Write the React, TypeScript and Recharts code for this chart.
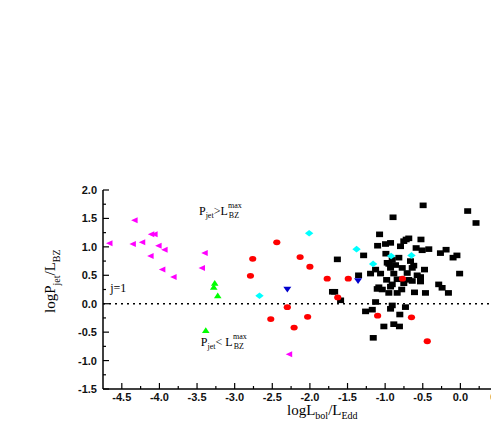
import React from 'react';
import {
  ScatterChart,
  Scatter,
  XAxis,
  YAxis,
  ReferenceLine,
  ReferenceDot,
} from 'recharts';

// ---------- data ----------
const blackSquares = [
  { x: -0.495, y: 1.73 }, { x: 0.097, y: 1.63 }, { x: 0.208, y: 1.42 }, { x: -0.895, y: 1.52 },
  { x: -1.074, y: 1.22 }, { x: -0.995, y: 1.05 }, { x: -0.928, y: 1.07 }, { x: -0.752, y: 1.1 },
  { x: -0.686, y: 1.15 }, { x: -0.796, y: 1.01 }, { x: -0.524, y: 1.13 }, { x: -1.1, y: 1.02 },
  { x: -0.588, y: 0.98 }, { x: -0.508, y: 0.94 }, { x: -0.42, y: 0.96 }, { x: -0.265, y: 0.89 },
  { x: -0.19, y: 0.95 }, { x: -0.097, y: 0.81 }, { x: -0.046, y: 0.85 }, { x: -1.286, y: 0.85 },
  { x: -0.99, y: 0.88 }, { x: -0.818, y: 0.81 }, { x: -0.972, y: 0.72 }, { x: -0.663, y: 0.75 },
  { x: -0.928, y: 0.63 }, { x: -0.773, y: 0.63 }, { x: -0.64, y: 0.63 }, { x: -0.477, y: 0.6 },
  { x: -1.127, y: 0.6 }, { x: -1.194, y: 0.53 }, { x: -1.061, y: 0.53 }, { x: -0.885, y: 0.53 },
  { x: -0.707, y: 0.54 }, { x: -0.574, y: 0.5 }, { x: -0.53, y: 0.47 }, { x: -0.01, y: 0.53 },
  { x: -0.84, y: 0.43 }, { x: -0.64, y: 0.4 }, { x: -0.53, y: 0.39 }, { x: -0.906, y: 0.34 },
  { x: -0.288, y: 0.34 }, { x: -0.243, y: 0.28 }, { x: -1.084, y: 0.29 }, { x: -1.038, y: 0.25 },
  { x: -1.635, y: 0.78 }, { x: -1.353, y: 0.5 }, { x: -1.671, y: 0.21 }, { x: -1.7, y: 0.21 },
  { x: -1.592, y: 0.06 }, { x: -0.159, y: 0.19 }, { x: -0.61, y: 0.2 }, { x: -0.464, y: 0.19 },
  { x: -0.951, y: 0.19 }, { x: -0.84, y: 0.19 }, { x: -0.752, y: 0.36 }, { x: -0.686, y: 0.42 },
  { x: -0.95, y: 0.7 }, { x: -0.906, y: 0.77 }, { x: -0.62, y: 0.67 }, { x: -0.72, y: 1.13 },
  { x: -1.105, y: 0.26 }, { x: -0.928, y: 0.3 }, { x: -1.127, y: 0.03 }, { x: -1.26, y: -0.135 },
  { x: -1.171, y: -0.105 }, { x: -0.906, y: -0.03 }, { x: -0.928, y: -0.09 }, { x: -0.73, y: -0.06 },
  { x: -0.805, y: -0.19 }, { x: -1.017, y: -0.4 }, { x: -0.885, y: -0.36 }, { x: -0.81, y: -0.4 },
  { x: -1.158, y: -0.6 }, { x: -0.862, y: 0.68 }, { x: -0.98, y: 0.42 }, { x: -0.78, y: 0.25 },
];

const redCircles = [
  { x: -2.44, y: 1.08 }, { x: -2.76, y: 0.79 }, { x: -2.13, y: 0.82 }, { x: -2.0, y: 0.65 },
  { x: -2.79, y: 0.49 }, { x: -1.77, y: 0.44 }, { x: -1.49, y: 0.44 }, { x: -1.63, y: 0.11 },
  { x: -2.3, y: -0.06 }, { x: -2.52, y: -0.27 }, { x: -2.03, y: -0.23 }, { x: -2.21, y: -0.42 },
  { x: -1.1, y: -0.21 }, { x: -0.65, y: -0.24 }, { x: -0.44, y: -0.66 }, { x: -0.77, y: 0.44 },
];

const magentaTriangles = [
  { x: -4.664, y: 1.065 }, { x: -4.353, y: 1.05 }, { x: -4.228, y: 1.08 }, { x: -4.33, y: 1.47 },
  { x: -4.108, y: 1.22 }, { x: -4.064, y: 1.22 }, { x: -4.011, y: 1.02 }, { x: -3.931, y: 0.95 },
  { x: -4.117, y: 0.84 }, { x: -3.961, y: 0.6 }, { x: -3.811, y: 0.47 }, { x: -3.398, y: 0.89 },
  { x: -3.434, y: 0.63 }, { x: -2.275, y: -0.89 },
];

const greenTriangles = [
  { x: -3.265, y: 0.36 }, { x: -3.278, y: 0.29 }, { x: -3.225, y: 0.14 }, { x: -3.384, y: -0.47 },
];

const cyanDiamonds = [
  { x: -2.01, y: 1.24 }, { x: -1.38, y: 0.96 }, { x: -2.67, y: 0.14 },
  { x: -1.16, y: 0.7 }, { x: -0.92, y: 0.84 }, { x: -0.65, y: 0.85 },
];

const blueTriangles = [
  { x: -2.3, y: 0.25 }, { x: -1.36, y: 0.4 },
];

const xTicks = [
  -4.5, -4.25, -4.0, -3.75, -3.5, -3.25, -3.0, -2.75, -2.5, -2.25, -2.0, -1.75, -1.5, -1.25,
  -1.0, -0.75, -0.5, -0.25, 0.0, 0.25, 0.5,
];
const yTicks = [
  -1.5, -1.25, -1.0, -0.75, -0.5, -0.25, 0.0, 0.25, 0.5, 0.75, 1.0, 1.25, 1.5, 1.75, 2.0,
];
const topTicks = [
  1.04, 2.04, 3.04, 4.04, 5.04, 6.04, 7.04, 8.04, 9.04, 10.04, 11.04, 12.04, 13.04, 14.04,
  15.04, 16.04, 17.04, 18.04, 19.04, 20.04, 21.04, 22.04,
];
const rightTicks = [1, 2, 3, 4, 5, 6, 7];

// ---------- styles ----------
const SERIF = '"Liberation Serif", "Times New Roman", serif';
const SANS = '"Liberation Sans", Arial, sans-serif';
const AXIS = { stroke: '#000', strokeWidth: 1.5 };

const isMajor = (v: number) => Math.abs(v * 2 - Math.round(v * 2)) < 1e-6;

const BottomTick = (props: any) => {
  const { x, y, payload } = props;
  const v = payload.value;
  const major = isMajor(v);
  return (
    <g>
      <line x1={x} x2={x} y1={y} y2={y - (major ? 6 : 3)} stroke="#000" strokeWidth={1.2} />
      {major && (
        <text x={x} y={y + 11.5} textAnchor="middle" fontFamily={SANS} fontWeight="bold" fontSize={11} fill="#111">
          {v.toFixed(1)}
        </text>
      )}
    </g>
  );
};

const LeftTick = (props: any) => {
  const { x, y, payload } = props;
  const v = payload.value;
  const major = isMajor(v);
  return (
    <g>
      <line x1={x} x2={x + (major ? 6 : 3)} y1={y} y2={y} stroke="#000" strokeWidth={1.2} />
      {major && (
        <text x={x - 6} y={y + 4} textAnchor="end" fontFamily={SANS} fontWeight="bold" fontSize={11} fill="#111">
          {v.toFixed(1)}
        </text>
      )}
    </g>
  );
};

const TopTick = (props: any) => {
  const { x, y } = props;
  return <line x1={x} x2={x} y1={y} y2={y + 4} stroke="#000" strokeWidth={1.2} />;
};

const RightTick = (props: any) => {
  const { x, y } = props;
  return <line x1={x} x2={x - 8} y1={y} y2={y} stroke="#000" strokeWidth={1.2} />;
};

// ---------- marker shapes ----------
const Square = (p: any) => <rect x={p.cx - 3.5} y={p.cy - 2.8} width={7} height={5.6} fill="#000" />;
const Circle = (p: any) => <ellipse cx={p.cx} cy={p.cy} rx={3.6} ry={2.9} fill="#ff0000" />;
const LeftTri = (p: any) => (
  <polygon points={`${p.cx - 3.5},${p.cy} ${p.cx + 3},${p.cy - 3} ${p.cx + 3},${p.cy + 3}`} fill="#ff00ff" />
);
const UpTri = (p: any) => (
  <polygon points={`${p.cx},${p.cy - 3.2} ${p.cx - 3.8},${p.cy + 2.6} ${p.cx + 3.8},${p.cy + 2.6}`} fill="#00ff00" />
);
const DownTri = (p: any) => (
  <polygon points={`${p.cx},${p.cy + 3} ${p.cx - 4},${p.cy - 2.8} ${p.cx + 4},${p.cy - 2.8}`} fill="#0000cc" />
);
const Diamond = (p: any) => (
  <polygon points={`${p.cx},${p.cy - 3.3} ${p.cx + 4.2},${p.cy} ${p.cx},${p.cy + 3.3} ${p.cx - 4.2},${p.cy}`} fill="#00ffff" />
);

// ---------- labels ----------
const XTitle = (props: any) => {
  const vb = props.viewBox || { x: 103, y: 389 };
  const x = vb.x + 184;
  const y = vb.y + 26;
  return (
    <text x={x} y={y} fontFamily={SERIF} fontSize={15} fill="#000">
      logL
      <tspan fontSize={10} dy={4} fill="#000">bol</tspan>
      <tspan dy={-4} fill="#000">/L</tspan>
      <tspan fontSize={10} dy={4} fill="#000">Edd</tspan>
    </text>
  );
};

const YTitle = (props: any) => {
  const vb = props.viewBox || { x: 0, y: 190 };
  const x = vb.x + 55;
  const y = vb.y + 123;
  return (
    <text x={x} y={y} transform={`rotate(-90, ${x}, ${y})`} fontFamily={SERIF} fontSize={15} fill="#000">
      logP
      <tspan fontSize={10} dy={5} fill="#000">jet</tspan>
      <tspan dy={-5} fill="#000">/L</tspan>
      <tspan fontSize={10} dy={5} fill="#000">BZ</tspan>
    </text>
  );
};

const CondLabel = (props: any) => {
  const vb = props.viewBox || { x: 0, y: 0 };
  const sign: string = props.sign;
  const x = vb.x;
  const y = vb.y;
  const pW = 6.7;
  const jetW = 8;
  const opW = sign === '>' ? 6.8 : 9.8;
  const lx = x + pW + jetW + opW;
  return (
    <g>
      <text x={x} y={y} fontSize={12} fontFamily={SERIF} fill="#000">P</text>
      <text x={x + pW} y={y + 3} fontSize={8} fontFamily={SERIF} fill="#000">jet</text>
      <text x={x + pW + jetW} y={y} fontSize={12} fontFamily={SERIF} fill="#000">{sign === '>' ? '>' : '< '}</text>
      <text x={lx} y={y} fontSize={12} fontFamily={SERIF} fill="#000">L</text>
      <text x={lx + 7.6} y={y - 7} fontSize={8} fontFamily={SERIF} fill="#000">max</text>
      <text x={lx + 8.4} y={y + 3} fontSize={8} fontFamily={SERIF} fill="#000">BZ</text>
    </g>
  );
};

const JLabel = (props: any) => {
  const vb = props.viewBox || { x: 0, y: 0 };
  return (
    <text x={vb.x} y={vb.y} fontFamily={SERIF} fontSize={12} fill="#000">j=1</text>
  );
};

export default function App() {
  return (
    <div style={{ position: 'absolute', left: 0, top: 0, width: 491, height: 436, overflow: 'hidden', background: '#fff' }}>
      <ScatterChart width={510} height={436} margin={{ top: 190, right: 12, bottom: 17, left: 0 }}>
        <XAxis
          xAxisId="b"
          dataKey="x"
          type="number"
          domain={[-4.75, 0.5]}
          ticks={xTicks}
          interval={0}
          tick={<BottomTick />}
          tickLine={false}
          tickSize={0}
          tickMargin={0}
          axisLine={AXIS}
          height={30}
          allowDataOverflow
          label={<XTitle />}
        />
        <XAxis
          xAxisId="t"
          orientation="top"
          type="number"
          domain={[0, 23.28]}
          ticks={topTicks}
          interval={0}
          tick={<TopTick />}
          tickLine={false}
          tickSize={0}
          tickMargin={0}
          axisLine={AXIS}
          height={0}
          allowDataOverflow
        />
        <YAxis
          yAxisId="l"
          dataKey="y"
          type="number"
          domain={[-1.5, 2.0]}
          ticks={yTicks}
          interval={0}
          tick={<LeftTick />}
          tickLine={false}
          tickSize={0}
          tickMargin={0}
          axisLine={AXIS}
          width={103}
          allowDataOverflow
          label={<YTitle />}
        />
        <YAxis
          yAxisId="r"
          orientation="right"
          type="number"
          domain={[0, 8]}
          ticks={rightTicks}
          interval={0}
          tick={<RightTick />}
          tickLine={false}
          tickSize={0}
          tickMargin={0}
          axisLine={AXIS}
          width={0}
          allowDataOverflow
        />
        <ReferenceLine xAxisId="b" yAxisId="l" y={0} stroke="#000" strokeWidth={1.5} strokeDasharray="2 4" />
        <Scatter xAxisId="b" yAxisId="l" data={blackSquares} shape={Square} isAnimationActive={false} />
        <Scatter xAxisId="b" yAxisId="l" data={magentaTriangles} shape={LeftTri} isAnimationActive={false} />
        <Scatter xAxisId="b" yAxisId="l" data={greenTriangles} shape={UpTri} isAnimationActive={false} />
        <Scatter xAxisId="b" yAxisId="l" data={redCircles} shape={Circle} isAnimationActive={false} />
        <Scatter xAxisId="b" yAxisId="l" data={cyanDiamonds} shape={Diamond} isAnimationActive={false} />
        <Scatter xAxisId="b" yAxisId="l" data={blueTriangles} shape={DownTri} isAnimationActive={false} />
        <ReferenceDot xAxisId="b" yAxisId="l" x={-3.475} y={1.56} r={0} fill="none" stroke="none" label={<CondLabel sign=">" />} />
        <ReferenceDot xAxisId="b" yAxisId="l" x={-3.45} y={-0.75} r={0} fill="none" stroke="none" label={<CondLabel sign="<" />} />
        <ReferenceDot xAxisId="b" yAxisId="l" x={-4.655} y={0.21} r={0} fill="none" stroke="none" label={<JLabel />} />
      </ScatterChart>
    </div>
  );
}
